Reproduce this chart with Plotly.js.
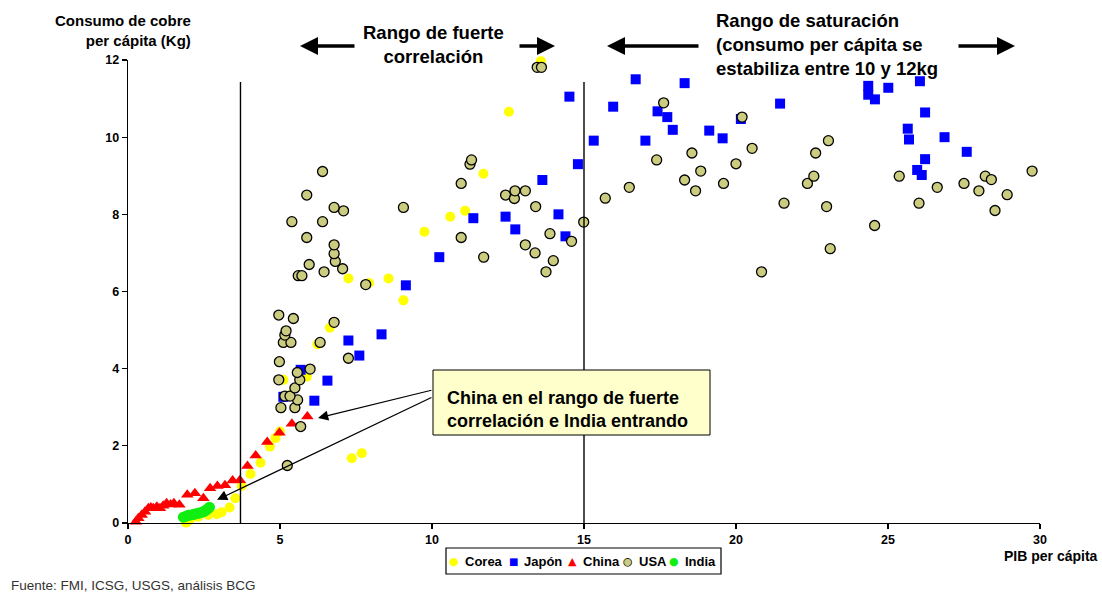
<!DOCTYPE html>
<html>
<head>
<meta charset="utf-8">
<script src="https://cdn.plot.ly/plotly-3.0.1.min.js"></script>
<style>html,body{margin:0;padding:0;background:#fff;}#chart{width:1102px;height:594px;}</style>
</head>
<body>
<div id="chart"></div>
<script>
// ---- Data (PIB per cápita, consumo de cobre per cápita Kg) ----
const seriesNames = ["Corea", "Japón", "China", "USA", "India"];
const seriesColors = ["#FFFF00", "#0000FF", "#FF0000", "#CCCC80", "#11EE11"];

const koreaX = [1.91,2.04,2.31,2.64,2.92,3.08,3.34,3.53,3.74,4.03,4.36,4.67,4.85,5.00,5.11,5.33,5.88,6.23,6.64,7.25,7.36,7.69,7.93,8.57,9.06,9.75,10.60,11.09,11.69,12.53,13.58];
const koreaY = [0.01,0.08,0.16,0.21,0.23,0.28,0.40,0.64,0.96,1.27,1.56,1.98,2.20,2.37,3.71,3.32,3.79,4.63,5.06,6.34,1.68,1.81,6.22,6.34,5.77,7.55,7.94,8.09,9.05,10.66,11.97];

const japanX = [5.11,5.68,6.13,6.56,7.25,7.61,8.34,9.14,10.24,11.36,12.42,12.74,13.63,14.16,14.39,14.52,14.80,15.32,15.96,16.70,17.02,17.42,17.74,17.92,18.31,19.12,19.56,20.16,21.45,24.35,24.35,24.57,25.01,25.65,25.69,25.96,26.05,26.11,26.22,26.22,26.86,27.59];
const japanY = [3.27,3.97,3.17,3.69,4.73,4.34,4.89,6.16,6.89,7.90,7.94,7.61,8.89,8.00,7.43,11.05,9.30,9.91,10.79,11.50,9.91,10.67,10.52,10.19,11.40,10.17,9.97,10.47,10.87,11.33,11.10,10.98,11.28,10.22,9.94,9.15,11.45,9.02,10.64,9.43,10.00,9.62];

const chinaX = [0.26,0.34,0.45,0.56,0.67,0.75,0.83,0.95,1.05,1.16,1.27,1.40,1.51,1.69,1.95,2.20,2.48,2.70,2.94,3.19,3.44,3.68,3.93,4.20,4.58,4.98,5.39,5.90];
const chinaY = [0.03,0.12,0.21,0.29,0.38,0.40,0.38,0.42,0.38,0.45,0.51,0.48,0.51,0.47,0.73,0.77,0.64,0.90,0.96,0.98,1.10,1.11,1.48,1.75,2.10,2.34,2.57,2.76];

const usaX = [5.24,5.68,5.03,5.49,5.58,5.16,5.33,5.49,4.96,5.65,5.57,5.99,4.98,7.25,5.11,5.36,6.32,5.16,5.20,6.78,5.44,4.96,7.82,5.60,5.72,6.45,7.06,5.96,6.82,6.78,6.78,5.88,5.39,6.40,7.09,6.78,9.06,5.88,6.40,10.96,10.96,11.25,11.30,11.70,12.42,12.71,12.73,13.07,13.07,13.39,13.41,13.46,13.60,13.75,13.88,13.99,14.59,14.99,15.70,16.49,17.39,17.62,18.31,18.55,18.67,18.84,19.59,20.00,20.20,20.53,20.84,21.58,22.35,22.56,22.62,22.98,23.04,23.10,24.56,25.37,26.02,26.62,27.50,27.99,28.20,28.40,28.52,28.92,29.74];
const usaY = [1.49,2.50,2.99,2.99,3.19,3.29,3.29,3.50,3.71,3.71,3.90,3.99,4.18,4.27,4.68,4.68,4.68,4.87,4.98,5.20,5.30,5.39,6.18,6.41,6.41,6.51,6.59,6.70,6.78,6.98,7.21,7.40,7.81,7.81,8.09,8.18,8.18,8.50,9.11,7.40,8.80,9.30,9.41,6.89,8.50,8.41,8.61,8.61,7.21,7.00,8.20,11.81,11.81,6.51,7.50,6.80,7.30,7.80,8.42,8.70,9.41,10.89,8.89,9.59,8.61,9.12,8.80,9.31,10.52,9.71,6.51,8.29,8.80,8.99,9.59,8.20,9.91,7.11,7.71,8.99,8.29,8.70,8.80,8.61,8.99,8.90,8.10,8.51,9.12];

const indiaX = [1.82,1.90,1.98,2.07,2.15,2.23,2.31,2.40,2.48,2.56,2.63,2.68];
const indiaY = [0.15,0.17,0.20,0.21,0.22,0.24,0.25,0.27,0.29,0.33,0.37,0.41];

const xTicks = [0, 5, 10, 15, 20, 25, 30];
const yTicks = [0, 2, 4, 6, 8, 10, 12];
const rangeLines = [3.7, 15];

// ---- Figure ----
const FONT = 'Arial, "Liberation Sans", sans-serif';
const W = 1102, H = 594, ML = 128, MR = 62, MT = 60, MB = 71;
const PW = W - ML - MR, PH = H - MT - MB;
const px = v => (v - ML) / PW;          // pixel -> paper x
const py = v => (H - MB - v) / PH;      // pixel -> paper y

const xs = [koreaX, japanX, chinaX, usaX, indiaX];
const ys = [koreaY, japanY, chinaY, usaY, indiaY];
const symbols = ["circle", "square", "triangle-up", "circle", "circle"];
const sizes = [10, 10, 11, 10, 11];

const traces = seriesNames.map((n, i) => ({
  type: "scatter", mode: "markers", name: n,
  x: xs[i], y: ys[i], cliponaxis: false, showlegend: false,
  marker: {
    symbol: symbols[i], size: sizes[i], color: seriesColors[i],
    line: { color: i === 3 ? "#000000" : seriesColors[i], width: i === 3 ? 1.3 : 0 }
  }
}));

const shapes = rangeLines.map(v => ({
  type: "line", xref: "x", yref: "y", x0: v, x1: v, y0: 0, y1: 11.43,
  line: { color: "#000", width: 1.4 }
}));
// callout box
shapes.push({ type: "rect", xref: "paper", yref: "paper",
  x0: px(433), x1: px(710), y0: py(435), y1: py(370),
  fillcolor: "#FFFFCC", line: { color: "#000", width: 1 }, layer: "above" });
// legend box
shapes.push({ type: "rect", xref: "paper", yref: "paper",
  x0: px(446), x1: px(721), y0: py(574), y1: py(548),
  fillcolor: "#FFFFFF", line: { color: "#000", width: 1.2 } });

const ann = [];
const bold = (t, s, extra) => Object.assign({ text: t, showarrow: false, xref: "paper", yref: "paper",
  font: { family: FONT, size: s, color: "#000", weight: "bold" } }, extra || {});

ann.push(bold("Consumo de cobre<br>per cápita (Kg)", 15, { x: px(193), y: py(31), xanchor: "right", yanchor: "middle", align: "right" }));
ann.push(bold("PIB per cápita", 14, { x: px(1100), y: py(556), xanchor: "right", yanchor: "middle" }));
ann.push(bold("Rango de fuerte<br>correlación", 18.5, { x: px(433), y: py(45), xanchor: "center", yanchor: "middle", align: "center" }));
ann.push(bold("Rango de saturación<br>(consumo per cápita se<br>estabiliza entre 10 y 12kg", 18.5, { x: px(714), y: py(44.5), xanchor: "left", yanchor: "middle", align: "left" }));
ann.push(bold("China en el rango de fuerte<br>correlación e India entrando", 18, { x: px(445), y: py(409), xanchor: "left", yanchor: "middle", align: "left" }));
ann.push({ text: "Fuente: FMI, ICSG, USGS, análisis BCG", showarrow: false, xref: "paper", yref: "paper",
  x: px(9), y: py(585), xanchor: "left", yanchor: "middle",
  font: { family: FONT, size: 13.5, color: "#333333" } });

// top range arrows [head px x, tail offset px]
const topArrows = [[300, 56], [555, -37], [607, 93], [1015, -58]];
topArrows.forEach(a => ann.push({ text: "", xref: "paper", yref: "paper", x: px(a[0]), y: py(46),
  ax: a[1], ay: 0, showarrow: true, arrowhead: 2, arrowsize: 1, arrowwidth: 3.6, arrowcolor: "#000" }));

// callout arrows (data coords)
ann.push({ text: "", x: 6.25, y: 2.72, ax: 10.03, ay: 3.45, axref: "x", ayref: "y", xref: "x", yref: "y",
  showarrow: true, arrowhead: 2, arrowsize: 1.7, arrowwidth: 1.2, arrowcolor: "#000" });
ann.push({ text: "", x: 2.93, y: 0.60, ax: 10.03, ay: 3.27, axref: "x", ayref: "y", xref: "x", yref: "y",
  showarrow: true, arrowhead: 2, arrowsize: 1.7, arrowwidth: 1.2, arrowcolor: "#000" });

// custom legend
const legGlyph = ["●", "■", "▲", "●", "●"];
const legSym = [454, 513, 572, 628, 674];
const legTxt = [463, 522, 581, 637, 683];
seriesNames.forEach((n, i) => {
  ann.push({ text: legGlyph[i], showarrow: false, xref: "paper", yref: "paper", x: px(legSym[i]), y: py(561),
    xanchor: "center", yanchor: "middle", font: { family: '"DejaVu Sans", sans-serif', size: i === 1 ? 10 : 11, color: seriesColors[i] } });
  if (i === 3) ann.push({ text: "○", showarrow: false, xref: "paper", yref: "paper", x: px(legSym[i]), y: py(561),
    xanchor: "center", yanchor: "middle", font: { family: '"DejaVu Sans", sans-serif', size: 11, color: "#000" } });
  ann.push(bold(n, 13, { x: px(legTxt[i]), y: py(561), xanchor: "left", yanchor: "middle" }));
});

const axisCommon = { showgrid: false, zeroline: false, showline: true, linecolor: "#000", linewidth: 1.3,
  ticks: "outside", ticklen: 5, tickwidth: 1.2, tickcolor: "#000",
  tickfont: { family: FONT, size: 12.5, color: "#000", weight: "bold" }, fixedrange: true };

const layout = {
  width: W, height: H, margin: { l: ML, r: MR, t: MT, b: MB },
  paper_bgcolor: "#fff", plot_bgcolor: "#fff", showlegend: false,
  font: { family: FONT },
  xaxis: Object.assign({}, axisCommon, { range: [0, 30], tickmode: "array", tickvals: xTicks, ticktext: xTicks.map(String) }),
  yaxis: Object.assign({}, axisCommon, { range: [0, 12], tickmode: "array", tickvals: yTicks, ticktext: yTicks.map(String) }),
  shapes: shapes, annotations: ann
};

Plotly.newPlot("chart", traces, layout, { staticPlot: true, displayModeBar: false });
</script>
</body>
</html>
